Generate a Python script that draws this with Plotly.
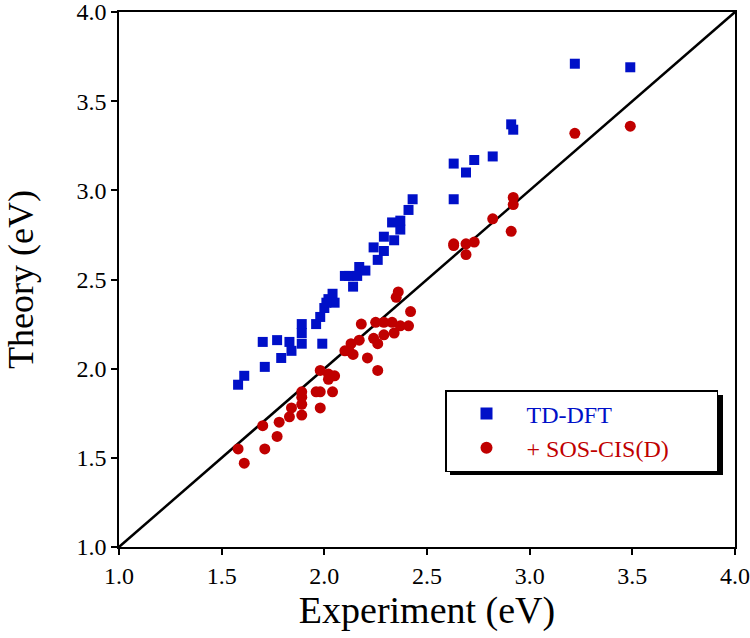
import plotly.graph_objects as go

# Experimental vs theoretical excitation energies (eV)
tddft_exp = [1.58, 1.61, 1.70, 1.71, 1.77, 1.79, 1.83, 1.84, 1.89, 1.89, 1.89, 1.96, 1.99, 1.98,
             2.00, 2.02, 2.04, 2.05, 2.01, 2.10, 2.12, 2.14, 2.16, 2.17, 2.20, 2.24, 2.26, 2.29,
             2.29, 2.33, 2.34, 2.37, 2.37, 2.41, 2.43, 2.63, 2.63, 2.69, 2.73, 2.82, 2.91, 2.92,
             3.22, 3.49]
tddft_theory = [1.91, 1.96, 2.15, 2.01, 2.16, 2.06, 2.15, 2.10, 2.25, 2.20, 2.14, 2.25, 2.14, 2.29,
                2.34, 2.39, 2.42, 2.37, 2.37, 2.52, 2.52, 2.46, 2.52, 2.57, 2.55, 2.68, 2.61, 2.66,
                2.74, 2.82, 2.72, 2.78, 2.83, 2.89, 2.95, 3.15, 2.95, 3.10, 3.17, 3.19, 3.37, 3.34,
                3.71, 3.69]

sos_exp = [1.58, 1.61, 1.70, 1.71, 1.77, 1.78, 1.83, 1.84, 1.89, 1.89, 1.89, 1.89, 1.96, 1.98,
           1.98, 1.98, 2.02, 2.02, 2.05, 2.04, 2.10, 2.12, 2.13, 2.14, 2.17, 2.21, 2.18, 2.24,
           2.26, 2.26, 2.25, 2.29, 2.29, 2.33, 2.34, 2.37, 2.41, 2.35, 2.36, 2.42, 2.63, 2.63,
           2.69, 2.69, 2.73, 2.82, 2.91, 2.92, 2.92, 3.22, 3.49]
sos_theory = [1.55, 1.47, 1.68, 1.55, 1.62, 1.70, 1.73, 1.78, 1.74, 1.80, 1.84, 1.87, 1.87, 1.78,
              1.87, 1.99, 1.94, 1.97, 1.96, 1.87, 2.10, 2.10, 2.14, 2.08, 2.16, 2.06, 2.25, 2.17,
              2.14, 1.99, 2.26, 2.19, 2.26, 2.26, 2.20, 2.24, 2.24, 2.40, 2.43, 2.32, 2.70, 2.69,
              2.70, 2.64, 2.71, 2.84, 2.77, 2.96, 2.92, 3.32, 3.36]

diag = [1.0, 4.0]
tick_vals = [1.0, 1.5, 2.0, 2.5, 3.0, 3.5, 4.0]
tick_text = ["1.0", "1.5", "2.0", "2.5", "3.0", "3.5", "4.0"]

BLUE = "#0010C8"
RED = "#C00000"
FONT = "Liberation Serif"

fig = go.Figure()
fig.add_trace(go.Scatter(x=diag, y=diag, mode="lines", line=dict(color="black", width=2.5),
                         showlegend=False, hoverinfo="skip"))
fig.add_trace(go.Scatter(x=tddft_exp, y=tddft_theory, mode="markers",
                         name=f"<span style='color:{BLUE}'>TD-DFT</span>",
                         marker=dict(symbol="square", size=10, color=BLUE)))
fig.add_trace(go.Scatter(x=sos_exp, y=sos_theory, mode="markers",
                         name=f"<span style='color:{RED}'>+ SOS-CIS(D)</span>" + "&nbsp;" * 7,
                         marker=dict(symbol="circle", size=11, color=RED)))

L, R, T, B = 119, 15, 12, 91
W, H = 750, 638
pw, ph = W - L - R, H - T - B

def px(xp):
    return (xp - L) / pw

def py(yp):
    return (H - B - yp) / ph

# legend shadow
fig.add_shape(type="rect", xref="paper", yref="paper",
              x0=px(450), x1=px(723), y0=py(475), y1=py(395),
              fillcolor="black", line=dict(width=0), layer="above")

axis_common = dict(range=[1.0, 4.0], tickvals=tick_vals, ticktext=tick_text,
                   showgrid=False, zeroline=False, showline=True, linecolor="black",
                   linewidth=1.5, mirror=True, ticks="outside", ticklen=6, tickwidth=1.5,
                   tickcolor="black", automargin=False, ticklabeloverflow="allow",
                   tickfont=dict(family=FONT, size=24, color="black"))

fig.update_layout(
    width=W, height=H,
    margin=dict(l=L, r=R, t=T, b=B),
    paper_bgcolor="white", plot_bgcolor="white",
    font=dict(family=FONT, color="black"),
    xaxis=dict(**axis_common, title=dict(text="Experiment (eV)", font=dict(family=FONT, size=38), standoff=2)),
    yaxis=dict(**axis_common, title=dict(text="Theory (eV)", font=dict(family=FONT, size=36), standoff=32)),
    legend=dict(x=px(445), y=py(390), xanchor="left", yanchor="top",
                bgcolor="white", bordercolor="black", borderwidth=1.5,
                font=dict(family=FONT, size=24), itemsizing="constant", itemwidth=70,
                tracegroupgap=0),
)

fig.write_html("out.html", config={"displayModeBar": False},
               post_script="document.body.style.margin='0';document.body.style.overflow='hidden';")
